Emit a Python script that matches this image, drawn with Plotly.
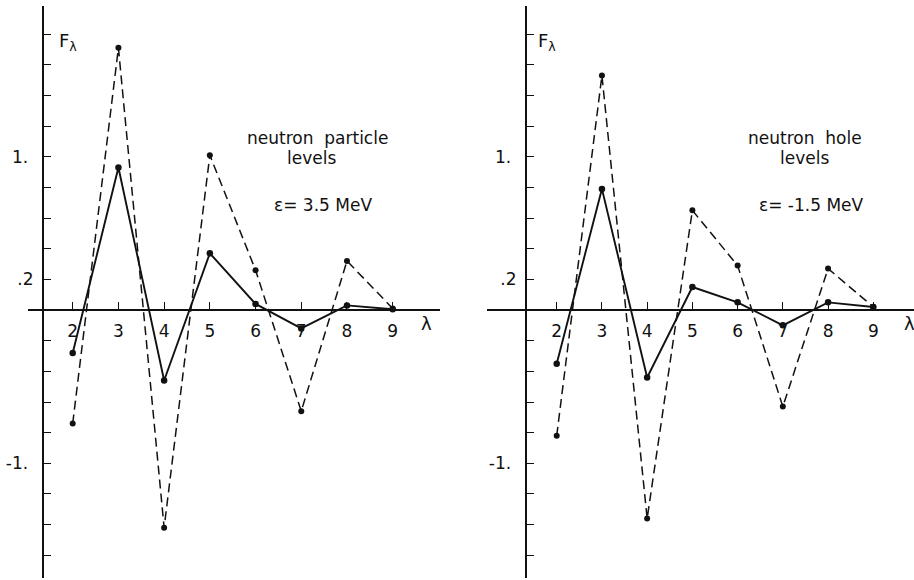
import plotly.graph_objects as go

# ---------------- data ----------------
lam = [2, 3, 4, 5, 6, 7, 8, 9]

particle_solid = [-0.28, 0.93, -0.46, 0.37, 0.04, -0.12, 0.03, 0.005]
particle_dashed = [-0.74, 1.71, -1.42, 1.01, 0.26, -0.66, 0.32, 0.01]

hole_solid = [-0.35, 0.79, -0.44, 0.15, 0.05, -0.10, 0.05, 0.02]
hole_dashed = [-0.82, 1.53, -1.36, 0.65, 0.29, -0.63, 0.27, 0.02]

y_tick_vals = [-1.6, -1.4, -1.2, -1.0, -0.8, -0.6, -0.4, -0.2, 0.2, 0.4,
               0.6, 0.8, 1.0, 1.2, 1.4, 1.6, 1.8]
y_tick_text = {1.0: "1.\u00a0", 0.2: ".2", -1.0: "-1.\u00a0"}
x_tick_vals = lam
x_tick_text = [str(v) for v in lam]

panel_titles = [("neutron\u00a0\u00a0particle", "levels", "\u03b5= 3.5 MeV"),
                ("neutron\u00a0\u00a0hole", "levels", "\u03b5= -1.5 MeV")]

# ---------------- layout geometry ----------------
W, H = 914, 580
FONT = "DejaVu Sans"
BLACK = "#111111"

y_range = [-1.748, 1.983]
y_domain = [2 / H, 574 / H]

panels = [
    dict(xdom=[28 / W, 440 / W], xr=[1.022, 10.035], yaxis_at=1.344,
         solid=particle_solid, dashed=particle_dashed,
         txt_x=[7.355, 7.23, 7.48], lam_x=9.73, fl_x=1.90),
    dict(xdom=[487 / W, 1.0], xr=[0.459, 9.90], yaxis_at=1.314,
         solid=hole_solid, dashed=hole_dashed,
         txt_x=[7.50, 7.48, 7.63], lam_x=9.80, fl_x=1.79),
]

fig = go.Figure()
layout = dict(
    width=W, height=H,
    margin=dict(l=0, r=0, t=0, b=0),
    paper_bgcolor="white", plot_bgcolor="white",
    showlegend=False, template="none",
    font=dict(family=FONT, color=BLACK, size=16),
)
annotations = []

x_zero_pos = y_domain[0] + (0 - y_range[0]) / (y_range[1] - y_range[0]) * (y_domain[1] - y_domain[0])

for i, p in enumerate(panels):
    n = "" if i == 0 else str(i + 1)
    xa, ya = "x" + n, "y" + n
    # dashed series
    fig.add_trace(go.Scatter(
        x=lam, y=p["dashed"], xaxis=xa, yaxis=ya, mode="lines+markers",
        line=dict(color=BLACK, width=1.5, dash="9px,5px"),
        marker=dict(color=BLACK, size=6), cliponaxis=False))
    # solid series
    fig.add_trace(go.Scatter(
        x=lam, y=p["solid"], xaxis=xa, yaxis=ya, mode="lines+markers",
        line=dict(color=BLACK, width=1.9),
        marker=dict(color=BLACK, size=6.5), cliponaxis=False))

    ypos = p["xdom"][0] + (p["yaxis_at"] - p["xr"][0]) / (p["xr"][1] - p["xr"][0]) * (p["xdom"][1] - p["xdom"][0])

    layout["xaxis" + n] = dict(
        domain=p["xdom"], range=p["xr"], anchor="free", position=x_zero_pos,
        showline=True, linecolor=BLACK, linewidth=1.5,
        showgrid=False, zeroline=False,
        tickmode="array", tickvals=x_tick_vals, ticktext=x_tick_text,
        ticks="inside", ticklen=7, tickwidth=1.4, tickcolor=BLACK,
        tickfont=dict(family=FONT, size=17, color=BLACK),
        ticklabelstandoff=6, automargin=False, fixedrange=True,
    )
    layout["yaxis" + n] = dict(
        domain=y_domain, range=y_range, anchor="free", position=ypos,
        showline=True, linecolor=BLACK, linewidth=1.5,
        showgrid=False, zeroline=False,
        tickmode="array", tickvals=y_tick_vals,
        ticktext=[y_tick_text.get(round(v, 1), "") for v in y_tick_vals],
        ticks="inside", ticklen=8, tickwidth=1.4, tickcolor=BLACK,
        tickfont=dict(family=FONT, size=17, color=BLACK),
        ticklabelstandoff=5, automargin=False, fixedrange=True,
    )

    # lambda label on x axis
    annotations.append(dict(xref=xa, yref=ya, x=p["lam_x"], y=-0.085, text="\u03bb",
                            showarrow=False, font=dict(family=FONT, size=18, color=BLACK)))
    # F_lambda label on y axis
    annotations.append(dict(xref=xa, yref=ya, x=p["fl_x"], y=1.75, text="F<sub>\u03bb</sub>",
                            showarrow=False, xanchor="center",
                            font=dict(family=FONT, size=18, color=BLACK)))
    # panel texts
    l1, l2, l3 = panel_titles[i]
    for tx, ty, t in zip(p["txt_x"], [1.12, 0.99, 0.685], [l1, l2, l3]):
        annotations.append(dict(xref=xa, yref=ya, x=tx, y=ty, text=t, showarrow=False,
                                font=dict(family=FONT, size=17, color=BLACK)))

layout["annotations"] = annotations
fig.update_layout(**layout)
fig.write_html("out.html")
